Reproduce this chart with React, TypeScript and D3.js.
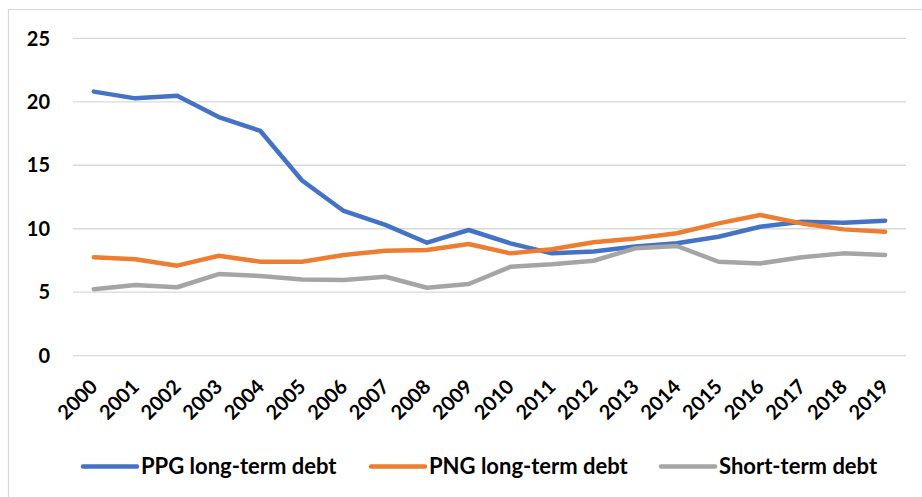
import React from "react";
import * as d3 from "d3";

const years = ["2000","2001","2002","2003","2004","2005","2006","2007","2008","2009","2010","2011","2012","2013","2014","2015","2016","2017","2018","2019"];
const ppgLongTerm = [20.8, 20.27, 20.47, 18.8, 17.7, 13.8, 11.4, 10.3, 8.9, 9.9, 8.85, 8.06, 8.2, 8.6, 8.85, 9.37, 10.16, 10.55, 10.47, 10.63];
const pngLongTerm = [7.75, 7.59, 7.09, 7.87, 7.4, 7.4, 7.93, 8.27, 8.32, 8.8, 8.06, 8.38, 8.93, 9.24, 9.64, 10.42, 11.08, 10.42, 9.95, 9.76];
const shortTerm = [5.23, 5.57, 5.39, 6.43, 6.28, 6.01, 5.96, 6.22, 5.35, 5.65, 7.0, 7.2, 7.48, 8.46, 8.64, 7.4, 7.27, 7.75, 8.06, 7.93];
const yTicks = [0, 5, 10, 15, 20, 25];

const seriesList = [
  { name: "PPG long-term debt", values: ppgLongTerm, color: "#4472C4" },
  { name: "PNG long-term debt", values: pngLongTerm, color: "#ED7D31" },
  { name: "Short-term debt", values: shortTerm, color: "#A5A5A5" },
];

const W = 922;
const H = 497;
const FONT = "Lato, 'Open Sans', sans-serif";

export default function App() {
  const x = d3.scaleBand<string>().domain(years).range([73, 906]);
  const y = d3.scaleLinear().domain([0, 25]).range([355.7, 38.3]);
  const cx = (yr: string) => (x(yr) as number) + x.bandwidth() / 2;
  const line = d3
    .line<number>()
    .x((_, i) => cx(years[i]))
    .y((v) => y(v));

  const legendX = [83, 371, 661];

  return (
    <svg
      width={W}
      height={H}
      style={{ position: "absolute", left: 0, top: 0, background: "#fff" }}
      fontFamily={FONT}
    >
      {/* chart frame */}
      <line x1={8} x2={W} y1={9.5} y2={9.5} stroke="#d9d9d9" strokeWidth={1.2} />
      <line x1={8.5} x2={8.5} y1={9} y2={H} stroke="#d9d9d9" strokeWidth={1.2} />

      {/* gridlines and y labels */}
      {yTicks.map((t) => (
        <g key={t}>
          <line x1={73} x2={906} y1={y(t)} y2={y(t)} stroke="#d9d9d9" strokeWidth={1.3} />
          <text
            x={50}
            y={y(t)}
            dy="0.36em"
            textAnchor="end"
            fontSize={20}
            fontWeight={700}
            fill="#000"
          >
            {t}
          </text>
        </g>
      ))}

      {/* x labels */}
      {years.map((yr) => (
        <text
          key={yr}
          transform={`translate(${cx(yr) + 5},${388}) rotate(-45)`}
          textAnchor="end"
          fontSize={20}
          fontWeight={700}
          fill="#000"
        >
          {yr}
        </text>
      ))}

      {/* series lines */}
      {seriesList.map((s) => (
        <path
          key={s.name}
          d={line(s.values) || ""}
          fill="none"
          stroke={s.color}
          strokeWidth={4.5}
          strokeLinejoin="round"
          strokeLinecap="round"
        />
      ))}

      {/* legend */}
      {seriesList.map((s, i) => (
        <g key={s.name} transform={`translate(${legendX[i]},466.5)`}>
          <line x1={0} x2={54} y1={0} y2={0} stroke={s.color} strokeWidth={4.5} strokeLinecap="round" />
          <text x={58} y={0} dy="0.36em" fontSize={22} fontWeight={700} fill="#000">
            {s.name}
          </text>
        </g>
      ))}
    </svg>
  );
}
